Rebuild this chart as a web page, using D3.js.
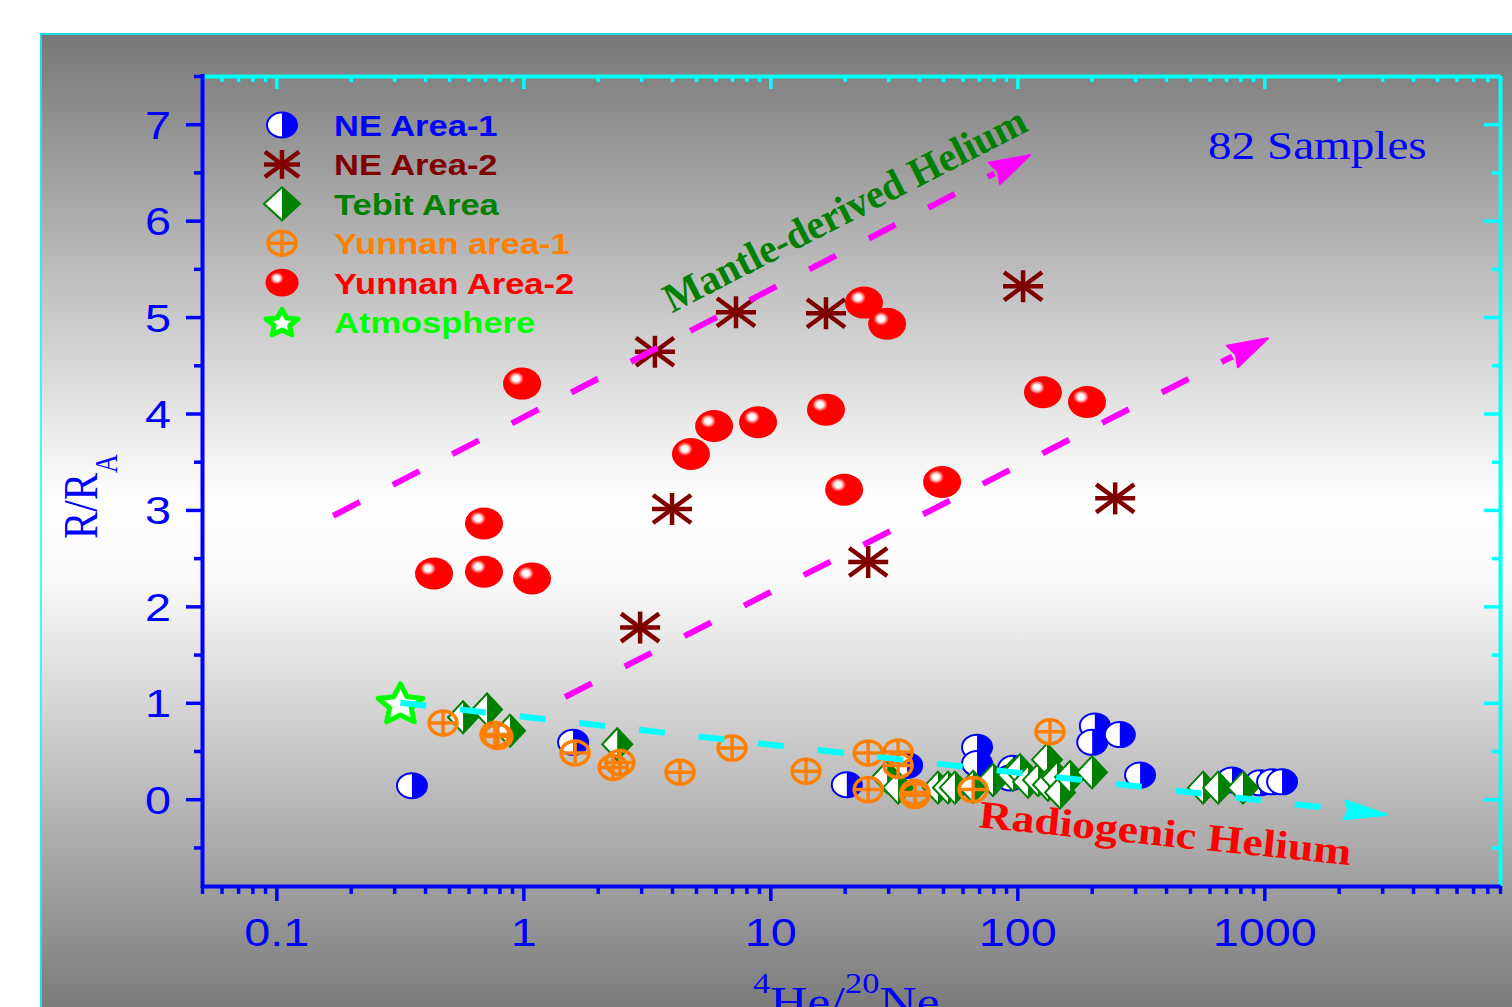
<!DOCTYPE html>
<html>
<head>
<meta charset="utf-8">
<script src="https://cdn.jsdelivr.net/npm/d3@7"></script>
<style>
  html, body { margin: 0; padding: 0; background: #ffffff; overflow: hidden; }
</style>
</head>
<body>
<svg id="chart" width="1512" height="1007"></svg>
<script>
// ---------------- data ----------------
// each point: [4He/20Ne, R/RA]
const xDomain = [0.05, 9000];
const yDomain = [-0.9, 7.5];

const xTickValues = [0.1, 1, 10, 100, 1000];
const xTickLabels = ["0.1", "1", "10", "100", "1000"];
const yTickValues = [0, 1, 2, 3, 4, 5, 6, 7];
const yTickLabels = ["0", "1", "2", "3", "4", "5", "6", "7"];
const yMinorValues = [-0.5, 0.5, 1.5, 2.5, 3.5, 4.5, 5.5, 6.5, 7.5];

const seriesNames = ["NE Area-1", "NE Area-2", "Tebit Area", "Yunnan area-1", "Yunnan Area-2", "Atmosphere"];

const neArea1 = [
  [0.354, 0.14], [1.59, 0.59], [20.4, 0.15], [35.8, 0.35], [68.7, 0.54], [68.7, 0.37],
  [96.1, 0.32], [93.4, 0.22], [206, 0.76], [201, 0.59], [260, 0.67], [314, 0.25],
  [740, 0.20], [961, 0.17], [1075, 0.18], [1180, 0.18]
];

const neArea2 = [
  [3.41, 4.64], [7.26, 5.05], [16.8, 5.04], [105.5, 5.32],
  [4.0, 3.01], [24.9, 2.46], [2.97, 1.78], [249, 3.12]
];

const tebitArea = [
  [0.570, 0.85], [0.713, 0.93], [0.883, 0.71], [2.40, 0.57],
  [29.7, 0.23], [32.9, 0.12], [47.7, 0.12], [52.4, 0.12], [55.9, 0.12], [66.2, 0.13],
  [79.7, 0.20], [96.1, 0.25], [102.5, 0.30], [110.5, 0.18], [121.3, 0.20], [131.9, 0.41],
  [133.1, 0.15], [144.8, 0.22], [148.9, 0.07], [163.5, 0.23], [200.6, 0.28],
  [565, 0.12], [650, 0.12], [820, 0.12]
];

const yunnanArea1 = [
  [0.473, 0.79], [0.768, 0.67], [0.789, 0.65], [1.62, 0.48], [2.31, 0.33], [2.46, 0.38],
  [4.31, 0.28], [7.0, 0.53], [13.95, 0.29], [24.9, 0.48], [32.9, 0.49], [32.9, 0.35],
  [24.9, 0.10], [38.5, 0.07], [38.5, 0.04], [66.2, 0.10], [135.6, 0.70]
];

const yunnanArea2 = [
  [0.988, 4.31], [0.693, 2.86], [0.435, 2.34], [0.693, 2.36], [1.084, 2.29],
  [4.77, 3.58], [5.92, 3.87], [8.92, 3.91], [16.8, 4.04], [19.9, 3.21],
  [23.95, 5.15], [29.7, 4.93], [49.6, 3.29], [127, 4.22], [191.5, 4.12]
];

const atmosphere = [[0.318, 1.0]];

// trend arrows: [start, tip]
const mantleTrendUpper = [[0.17, 2.94], [112.6, 6.68]];
const mantleTrendLower = [[1.475, 1.06], [1035, 4.78]];
const radiogenicTrend = [[0.318, 1.0], [3140, -0.16]];

// annotation anchors (data coordinates)
const mantleLabelAt = [4.0, 5.04];
const radiogenicLabelAt = [69.3, -0.29];
const samplesLabel = "82 Samples";

// ---------------- layout ----------------
const plot = { left: 202, right: 1500, top: 76, bottom: 886 };
const BLUE = "#0000ff", CYAN = "#00ffff", MAROON = "#800000", GREEN = "#008000",
      ORANGE = "#ff8000", RED = "#ff0000", LIME = "#00ff00", MAGENTA = "#ff00ff";
const SANS = "'Liberation Sans', Arial, Helvetica, sans-serif";
const SERIF = "'Liberation Serif', 'Times New Roman', Times, serif";

const svg = d3.select("#chart");
const defs = svg.append("defs");

// background shading of the panel
const bg = defs.append("linearGradient").attr("id", "panelShade")
  .attr("gradientUnits", "userSpaceOnUse")
  .attr("x1", 0).attr("y1", 33).attr("x2", 0).attr("y2", 1007);
[[0, "#777777"], [0.48, "#ffffff"], [0.56, "#fafafa"], [1, "#7b7b7b"]]
  .forEach(([o, c]) => bg.append("stop").attr("offset", o).attr("stop-color", c));

// glossy highlight for the sphere markers
const shine = defs.append("radialGradient").attr("id", "shine");
[[0, "#ffffff", 1], [0.3, "#ffffff", 1], [0.48, "#ffd0d0", 1], [0.72, "#ff7070", 0.85], [1, "#ff0000", 0]]
  .forEach(([o, c, a]) => shine.append("stop").attr("offset", o).attr("stop-color", c).attr("stop-opacity", a));

svg.append("rect").attr("x", 40).attr("y", 33).attr("width", 1480).attr("height", 980)
  .attr("fill", "url(#panelShade)");
svg.append("path").attr("d", "M41,1007V34H1512").attr("fill", "none")
  .attr("stroke", CYAN).attr("stroke-opacity", 0.75).attr("stroke-width", 2);

const x = d3.scaleLog().domain(xDomain).range([plot.left, plot.right]);
const y = d3.scaleLinear().domain(yDomain).range([plot.bottom, plot.top]);

// minor ticks for the log axis: 2..9 in each decade
const xMinorValues = [];
for (let k = -2; k <= 3; k++) {
  for (let d = 2; d <= 9; d++) {
    const v = +(d * Math.pow(10, k)).toPrecision(6);
    if (v >= xDomain[0] && v <= xDomain[1]) xMinorValues.push(v);
  }
}

// ---------------- frame and axes ----------------
function plainAxis(axis, tx, ty, color, lw, tw, keepDomain) {
  const g = svg.append("g").attr("transform", `translate(${tx},${ty})`).attr("color", color).call(axis);
  g.selectAll(".tick line").attr("stroke-width", tw);
  if (keepDomain) g.select(".domain").attr("stroke-width", lw);
  else g.select(".domain").remove();
  return g;
}

// top and right (cyan, inward ticks)
plainAxis(d3.axisBottom(x).tickValues(xTickValues).tickFormat("").tickSize(13).tickSizeOuter(0), 0, plot.top, CYAN, 4, 3.5, true);
plainAxis(d3.axisBottom(x).tickValues(xMinorValues).tickFormat("").tickSize(6).tickSizeOuter(0), 0, plot.top, CYAN, 4, 3.5, false);
plainAxis(d3.axisLeft(y).tickValues(yTickValues).tickFormat("").tickSize(16).tickSizeOuter(0), plot.right, 0, CYAN, 4, 3.5, true);
plainAxis(d3.axisLeft(y).tickValues(yMinorValues).tickFormat("").tickSize(8).tickSizeOuter(0), plot.right, 0, CYAN, 4, 3.5, false);

// bottom axis (blue, outward ticks, labels)
const gx = plainAxis(d3.axisBottom(x).tickValues(xTickValues).tickFormat((d, i) => xTickLabels[i]).tickSize(15).tickSizeOuter(0),
  0, plot.bottom, BLUE, 4, 3.5, true);
plainAxis(d3.axisBottom(x).tickValues(xMinorValues).tickFormat("").tickSize(8).tickSizeOuter(0), 0, plot.bottom, BLUE, 4, 3.5, false);
gx.attr("font-family", SANS).attr("font-size", 39);
gx.selectAll(".tick text").attr("y", 60).attr("dy", null).attr("transform", "scale(1.2,1)");

// left axis (blue, outward ticks, labels)
const gy = plainAxis(d3.axisLeft(y).tickValues(yTickValues).tickFormat((d, i) => yTickLabels[i]).tickSize(16).tickSizeOuter(0),
  plot.left, 0, BLUE, 4, 3.5, true);
plainAxis(d3.axisLeft(y).tickValues(yMinorValues).tickFormat("").tickSize(8).tickSizeOuter(0), plot.left, 0, BLUE, 4, 3.5, false);
gy.attr("font-family", SANS).attr("font-size", 39);
gy.selectAll(".tick text").attr("x", -31 / 1.2).attr("dy", null).attr("y", 14).attr("transform", "scale(1.2,1)");
gy.select(".domain").attr("d", `M0.5,${plot.bottom + 2}V${plot.top - 2}`);

// axis titles (the x title sits low, running past the bottom edge)
const xTitle = svg.append("text").attr("transform", "translate(753,1017) scale(1.15,1)")
  .attr("font-family", SERIF).attr("font-size", 45).attr("fill", BLUE);
xTitle.append("tspan").attr("font-size", 30).attr("dy", -24).text("4");
xTitle.append("tspan").attr("dy", 24).text("He/");
xTitle.append("tspan").attr("font-size", 30).attr("dy", -24).text("20");
xTitle.append("tspan").attr("dy", 24).text("Ne");

const yTitle = svg.append("text").attr("transform", "translate(97,539) scale(1.2,1) rotate(-90)")
  .attr("font-family", SERIF).attr("font-size", 41).attr("fill", BLUE);
yTitle.append("tspan").text("R/R");
yTitle.append("tspan").attr("font-size", 26).attr("dy", 17).text("A");

// ---------------- marker shapes ----------------
function halfCircle(g, k) {
  const rx = 15 * k, ry = 12.5 * k;
  g.append("ellipse").attr("rx", rx).attr("ry", ry).attr("fill", "#ffffff").attr("stroke", BLUE).attr("stroke-width", 2);
  g.append("path").attr("d", `M0,${-ry}A${rx},${ry} 0 0 1 0,${ry}Z`).attr("fill", BLUE);
}
function asterisk(g, k) {
  const a = 20 * k, b = 16 * k, c = 19 * k, d = 14 * k;
  [[-a, 0, a, 0], [0, -b, 0, b], [-c, -d, c, d], [-c, d, c, -d]].forEach(([x1, y1, x2, y2]) =>
    g.append("line").attr("x1", x1).attr("y1", y1).attr("x2", x2).attr("y2", y2)
      .attr("stroke", MAROON).attr("stroke-width", 4.5 * Math.min(1, k + 0.1)));
}
function diamond(g, w, h) {
  g.append("path").attr("d", `M0,${-h}L${w},0L0,${h}L${-w},0Z`).attr("fill", "#ffffff")
    .attr("stroke", GREEN).attr("stroke-width", 2).attr("stroke-linejoin", "miter");
  g.append("path").attr("d", `M0,${-h}L${w},0L0,${h}Z`).attr("fill", GREEN);
}
function circlePlus(g, k) {
  const rx = 14 * k, ry = 12 * k;
  g.append("ellipse").attr("rx", rx).attr("ry", ry).attr("fill", "none").attr("stroke", ORANGE).attr("stroke-width", 3.5);
  g.append("path").attr("d", `M${-rx},0H${rx}M0,${-ry}V${ry}`).attr("stroke", ORANGE).attr("stroke-width", 3.5);
}
function sphere(g, k) {
  g.append("ellipse").attr("rx", 19 * k).attr("ry", 16 * k).attr("fill", RED);
  g.append("ellipse").attr("cx", -6 * k).attr("cy", -5 * k).attr("rx", 8.5 * k).attr("ry", 7.5 * k).attr("fill", "url(#shine)");
}
function star(g, R, sx) {
  const pts = [];
  for (let i = 0; i < 10; i++) {
    const r = i % 2 === 0 ? R : R * 0.48;
    const a = -Math.PI / 2 + i * Math.PI / 5;
    pts.push([Math.cos(a) * r * sx, Math.sin(a) * r + R * 0.1]);
  }
  g.append("path").attr("d", d3.line()(pts) + "Z").attr("fill", "#ffffff")
    .attr("stroke", LIME).attr("stroke-width", 5).attr("stroke-linejoin", "round");
}

function drawSeries(data, draw) {
  svg.append("g").selectAll("g").data(data).join("g")
    .attr("transform", d => `translate(${x(d[0])},${y(d[1])})`)
    .each(function () { draw(d3.select(this)); });
}

// ---------------- data markers ----------------
drawSeries(neArea1, g => halfCircle(g, 1));
drawSeries(neArea2, g => asterisk(g, 1));
drawSeries(tebitArea, g => diamond(g, 15, 16));
drawSeries(yunnanArea1, g => circlePlus(g, 1));
drawSeries(yunnanArea2, g => sphere(g, 1));
drawSeries(atmosphere, g => star(g, 21, 1.12));

// ---------------- trend arrows ----------------
function trendArrow(pts, color, dash, width, headLen, headW) {
  const [p0, p1] = pts.map(([a, b]) => [x(a), y(b)]);
  const dx = p1[0] - p0[0], dy = p1[1] - p0[1], L = Math.hypot(dx, dy);
  const ux = dx / L, uy = dy / L;
  const base = [p1[0] - ux * headLen, p1[1] - uy * headLen];
  svg.append("path").attr("d", d3.line()([p0, base])).attr("fill", "none")
    .attr("stroke", color).attr("stroke-width", width).attr("stroke-dasharray", dash);
  const hw = headW / 2;
  svg.append("path").attr("d", d3.line()([
    p1,
    [base[0] - uy * hw, base[1] + ux * hw],
    [base[0] + ux * 4, base[1] + uy * 4],
    [base[0] + uy * hw, base[1] - ux * hw]
  ]) + "Z").attr("fill", color).attr("stroke", color).attr("stroke-width", 2).attr("stroke-linejoin", "round");
}
trendArrow(mantleTrendUpper, MAGENTA, "30,37", 6, 40, 24);
trendArrow(mantleTrendLower, MAGENTA, "30,37", 6, 40, 24);
trendArrow(radiogenicTrend, CYAN, "26,34", 6, 43, 19);

// ---------------- annotations ----------------
svg.append("text")
  .attr("transform", `translate(${x(mantleLabelAt[0])},${y(mantleLabelAt[1])}) rotate(-27.1)`)
  .attr("font-family", SERIF).attr("font-weight", "bold").attr("font-size", 41).attr("fill", GREEN)
  .attr("textLength", 402).attr("lengthAdjust", "spacingAndGlyphs")
  .text("Mantle-derived Helium");

svg.append("text")
  .attr("transform", `translate(${x(radiogenicLabelAt[0])},${y(radiogenicLabelAt[1])}) rotate(5.8)`)
  .attr("font-family", SERIF).attr("font-weight", "bold").attr("font-size", 39).attr("fill", RED)
  .attr("textLength", 374).attr("lengthAdjust", "spacingAndGlyphs")
  .text("Radiogenic Helium");

svg.append("text").attr("transform", "translate(1208,159) scale(1.15,1)")
  .attr("font-family", SERIF).attr("font-size", 41).attr("fill", BLUE)
  .text(samplesLabel);

// ---------------- legend ----------------
const legendColors = [BLUE, MAROON, GREEN, ORANGE, RED, LIME];
const legendDraw = [
  g => halfCircle(g, 1),
  g => asterisk(g, 0.9),
  g => diamond(g, 18, 16.5),
  g => circlePlus(g, 1),
  g => sphere(g, 0.87),
  g => star(g, 14, 1.2)
];
const legend = svg.append("g");
seriesNames.forEach((name, i) => {
  const cy = 125 + i * 39.4;
  const sg = legend.append("g").attr("transform", `translate(282,${cy})`);
  legendDraw[i](sg);
  legend.append("text").attr("transform", `translate(334,${cy + 11}) scale(1.15,1)`)
    .attr("font-family", SANS).attr("font-weight", "bold").attr("font-size", 30)
    .attr("fill", legendColors[i]).text(name);
});
</script>
</body>
</html>
